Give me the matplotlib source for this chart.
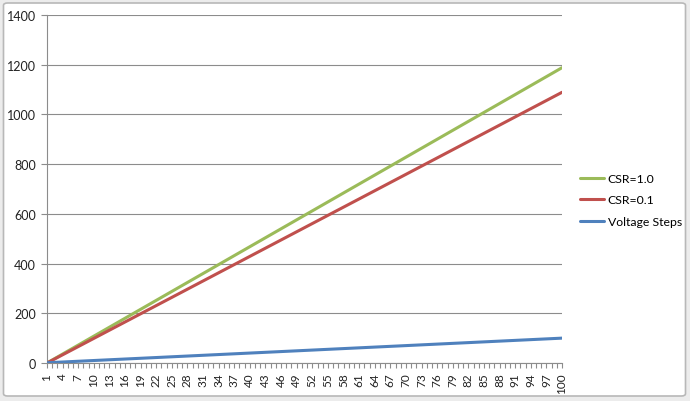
import matplotlib
matplotlib.use("Agg")
import matplotlib.pyplot as plt
from matplotlib.patches import FancyBboxPatch
from matplotlib.ticker import FixedLocator

plt.rcParams['font.family'] = ['Lato', 'DejaVu Sans']

categories = list(range(1, 101))
csr_10 = [0, 12, 24, 36, 48, 60, 72, 84, 96, 108, 120, 132, 144, 156, 168, 180, 192, 204, 216, 228,
          240, 252, 264, 276, 288, 300, 312, 324, 336, 348, 360, 372, 384, 396, 408, 420, 432, 444, 456, 468,
          480, 492, 504, 516, 528, 540, 552, 564, 576, 588, 600, 612, 624, 636, 648, 660, 672, 684, 696, 708,
          720, 732, 744, 756, 768, 780, 792, 804, 816, 828, 840, 852, 864, 876, 888, 900, 912, 924, 936, 948,
          960, 972, 984, 996, 1008, 1020, 1032, 1044, 1056, 1068, 1080, 1092, 1104, 1116, 1128, 1140, 1152, 1164, 1176, 1188]
csr_01 = [0, 11, 22, 33, 44, 55, 66, 77, 88, 99, 110, 121, 132, 143, 154, 165, 176, 187, 198, 209,
          220, 231, 242, 253, 264, 275, 286, 297, 308, 319, 330, 341, 352, 363, 374, 385, 396, 407, 418, 429,
          440, 451, 462, 473, 484, 495, 506, 517, 528, 539, 550, 561, 572, 583, 594, 605, 616, 627, 638, 649,
          660, 671, 682, 693, 704, 715, 726, 737, 748, 759, 770, 781, 792, 803, 814, 825, 836, 847, 858, 869,
          880, 891, 902, 913, 924, 935, 946, 957, 968, 979, 990, 1001, 1012, 1023, 1034, 1045, 1056, 1067, 1078, 1089]
voltage_steps = [1, 2, 3, 4, 5, 6, 7, 8, 9, 10, 11, 12, 13, 14, 15, 16, 17, 18, 19, 20,
                 21, 22, 23, 24, 25, 26, 27, 28, 29, 30, 31, 32, 33, 34, 35, 36, 37, 38, 39, 40,
                 41, 42, 43, 44, 45, 46, 47, 48, 49, 50, 51, 52, 53, 54, 55, 56, 57, 58, 59, 60,
                 61, 62, 63, 64, 65, 66, 67, 68, 69, 70, 71, 72, 73, 74, 75, 76, 77, 78, 79, 80,
                 81, 82, 83, 84, 85, 86, 87, 88, 89, 90, 91, 92, 93, 94, 95, 96, 97, 98, 99, 100]
series_names = ["CSR=1.0", "CSR=0.1", "Voltage Steps"]
series_colors = ["#9BBB59", "#C0504D", "#4F81BD"]
y_ticks = [0, 200, 400, 600, 800, 1000, 1200, 1400]

W, H = 690, 402
fig = plt.figure(figsize=(W / 100, H / 100), dpi=100)
fig.patch.set_facecolor("#ececec")
border = FancyBboxPatch((3.5 / W, 5.0 / H), 682 / W, 393 / H,
                        boxstyle="round,pad=0,rounding_size=0.006",
                        transform=fig.transFigure, facecolor="white",
                        edgecolor="#b8b8b8", linewidth=1.2, zorder=-10)
fig.patches.append(border)

ax = fig.add_axes([47 / W, 1 - 364 / H, (562 - 47) / W, (364 - 16) / H])
ax.set_facecolor("none")
ax.set_zorder(1)

for vals, name, col in zip([csr_10, csr_01, voltage_steps], series_names, series_colors):
    ax.plot(categories, vals, color=col, linewidth=2.2, label=name, solid_capstyle="round", zorder=3)

ax.set_xlim(categories[0], categories[-1])
ax.set_ylim(y_ticks[0], y_ticks[-1])
ax.yaxis.set_major_locator(FixedLocator(y_ticks))
ax.set_yticklabels([str(v) for v in y_ticks])
ax.xaxis.set_major_locator(FixedLocator(categories[::3]))
ax.xaxis.set_minor_locator(FixedLocator(categories))
ax.set_xticklabels([str(c) for c in categories[::3]], rotation=90)

ax.grid(axis="y", color="#8c8c8c", linewidth=0.8, zorder=1)
for s in ["top", "right"]:
    ax.spines[s].set_visible(False)
for s in ["left", "bottom"]:
    ax.spines[s].set_color("#8c8c8c")
    ax.spines[s].set_linewidth(0.8)

ax.tick_params(axis="y", which="major", length=4, width=0.8, color="#8c8c8c",
               labelsize=9, labelcolor="#222222", pad=4)
ax.tick_params(axis="x", which="both", length=3.5, width=0.8, color="#8c8c8c",
               labelsize=8.5, labelcolor="#222222", pad=3.5)

leg = ax.legend(loc="center left", bbox_to_anchor=(580 / W, 1 - 201 / H),
                bbox_transform=fig.transFigure, frameon=False, fontsize=8.8,
                handlelength=2.0, handletextpad=0.25, labelspacing=0.85,
                borderaxespad=0, borderpad=0)

fig.savefig("out.png", dpi=100, facecolor=fig.get_facecolor())
